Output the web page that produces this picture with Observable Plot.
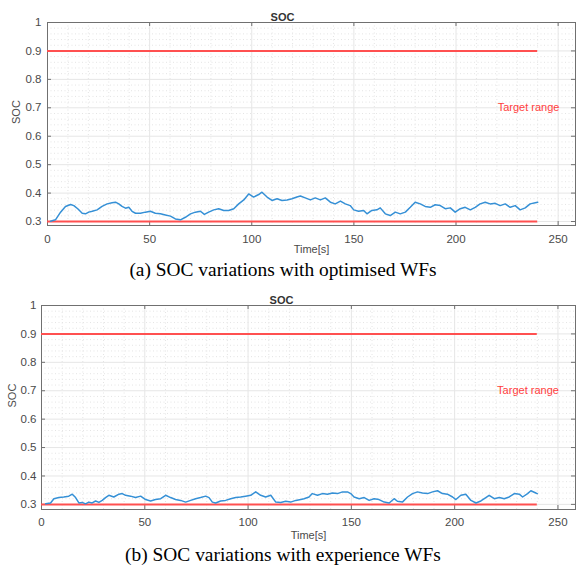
<!DOCTYPE html>
<html><head><meta charset="utf-8">
<script src="https://cdn.jsdelivr.net/npm/d3@7"></script>
<script src="https://cdn.jsdelivr.net/npm/@observablehq/plot@0.6"></script>
<style>
body{margin:0;background:#fff;}
#wrap{position:relative;width:576px;height:571px;overflow:hidden;background:#fff;}
.cap{position:absolute;left:0;width:566px;font-family:"Liberation Serif","Times New Roman",serif;font-size:19.4px;line-height:22px;text-align:center;color:#000;white-space:nowrap;}
#wrap svg{position:absolute;left:0;}
</style></head><body><div id="wrap"></div>
<script>
// ---- data ----
const timeA = [1.5,3.9,6.4,8.8,11.3,12.9,14.8,17.0,18.6,20.2,21.9,24.3,26.7,29.2,31.6,33.3,34.9,36.5,38.2,39.8,41.4,43.1,45.5,47.9,50.4,52.8,55.3,57.7,60.2,62.6,65.1,67.5,70.0,72.4,74.9,76.8,78.9,81.4,83.8,86.3,88.7,91.2,93.6,96.1,98.5,100.9,103.4,105.0,107.5,109.9,112.4,114.8,117.3,119.7,122.1,123.8,126.2,128.7,131.1,133.6,136.0,138.5,140.9,143.4,145.8,148.2,149.9,152.3,154.8,156.4,158.8,161.3,162.9,165.4,167.8,170.3,172.7,175.2,177.6,180.0,182.5,184.9,187.4,189.8,192.3,194.7,197.2,199.6,202.1,204.5,207.0,209.4,211.8,214.3,216.7,219.2,221.6,224.1,226.5,229.0,231.4,233.9,236.3,238.8,240];
const socA = [0.301,0.306,0.333,0.353,0.360,0.356,0.345,0.329,0.327,0.333,0.336,0.341,0.353,0.362,0.366,0.368,0.362,0.353,0.347,0.350,0.336,0.329,0.329,0.333,0.336,0.329,0.327,0.323,0.319,0.309,0.306,0.315,0.327,0.333,0.336,0.325,0.333,0.341,0.345,0.339,0.339,0.345,0.362,0.376,0.397,0.386,0.395,0.403,0.386,0.374,0.380,0.374,0.376,0.380,0.386,0.390,0.383,0.376,0.383,0.376,0.383,0.368,0.362,0.372,0.362,0.356,0.341,0.336,0.339,0.327,0.339,0.341,0.348,0.327,0.321,0.333,0.327,0.333,0.350,0.368,0.362,0.353,0.350,0.359,0.356,0.345,0.348,0.333,0.345,0.350,0.341,0.350,0.362,0.368,0.362,0.364,0.356,0.362,0.350,0.356,0.341,0.348,0.362,0.366,0.368];

const timeB = [2.0,4.4,6.0,8.4,10.8,13.2,14.9,16.5,18.1,19.7,21.3,22.9,24.5,26.2,27.8,29.4,31.0,32.6,35.0,37.5,39.1,40.7,43.1,45.5,48.0,50.4,52.8,55.2,57.7,60.1,62.5,64.9,67.3,69.8,72.2,74.6,77.0,79.5,81.1,82.7,84.3,86.7,89.1,91.6,94.0,96.4,98.8,101.3,103.7,106.1,108.5,111.0,113.4,115.8,118.2,120.6,123.1,125.5,127.1,129.5,131.1,133.6,136.0,138.4,140.8,143.3,145.7,148.1,149.7,151.3,153.8,156.2,158.6,161.0,163.4,165.9,168.3,170.7,172.3,174.7,177.2,179.6,182.0,184.4,186.9,189.3,191.7,194.1,196.5,199.0,200.6,203.0,205.4,207.9,210.3,212.7,215.1,216.7,219.2,221.6,224.0,226.4,228.9,231.3,232.9,235.3,236.9,239.3,240];
const socB = [0.302,0.305,0.320,0.324,0.326,0.329,0.336,0.324,0.305,0.307,0.302,0.308,0.305,0.312,0.307,0.314,0.324,0.332,0.326,0.336,0.338,0.332,0.329,0.324,0.329,0.317,0.312,0.317,0.320,0.332,0.324,0.317,0.314,0.308,0.314,0.320,0.324,0.329,0.324,0.308,0.305,0.312,0.314,0.320,0.324,0.326,0.329,0.332,0.344,0.332,0.326,0.332,0.308,0.307,0.311,0.308,0.314,0.317,0.320,0.326,0.338,0.332,0.338,0.336,0.340,0.338,0.344,0.344,0.338,0.326,0.320,0.324,0.314,0.320,0.317,0.308,0.305,0.320,0.311,0.308,0.326,0.338,0.344,0.340,0.338,0.344,0.348,0.338,0.336,0.326,0.317,0.332,0.336,0.314,0.305,0.312,0.324,0.332,0.320,0.324,0.320,0.326,0.338,0.336,0.326,0.338,0.348,0.340,0.338];

const xTicks = [0, 50, 100, 150, 200, 250];
const yTicks = [0.3, 0.4, 0.5, 0.6, 0.7, 0.8, 0.9, 1];
const xMinor = [10,20,30,40,60,70,80,90,110,120,130,140,160,170,180,190,210,220,230,240,260];
const yMinor = [0.32,0.34,0.36,0.38,0.42,0.44,0.46,0.48,0.52,0.54,0.56,0.58,0.62,0.64,0.66,0.68,0.72,0.74,0.76,0.78,0.82,0.84,0.86,0.88,0.92,0.94,0.96,0.98];
const targetLimits = [0.3, 0.9];
const targetSpan = [0, 240];
const annotation = [{t: 235.5, soc: 0.7, label: "Target range"}];
const titleText = "SOC";
const xLabel = "Time[s]";
const yLabel = "SOC";
const captions = ["(a) SOC variations with optimised WFs", "(b) SOC variations with experience WFs"];

const font = "'Liberation Sans', Arial, Helvetica, sans-serif";
const axisGray = "#707070";
const textGray = "#4a4a4a";

function makeChart(time, soc, cfg) {
  const data = time.map((t, i) => ({t, soc: soc[i]}));
  const fw = 576 - cfg.marginLeft - 1;
  const fh = cfg.height - 22 - cfg.marginBottom;
  return Plot.plot({
    width: 576,
    height: cfg.height,
    marginLeft: cfg.marginLeft,
    marginRight: 1,
    marginTop: 22,
    marginBottom: cfg.marginBottom,
    style: {fontFamily: font, fontSize: "11px", background: "transparent", overflow: "visible"},
    x: {domain: [0, 258.5]},
    y: {domain: cfg.yDomain},
    marks: [
      Plot.gridX(xMinor, {stroke: "#e4e4e4", strokeOpacity: 1, strokeDasharray: "1,2.5"}),
      Plot.gridY(yMinor, {stroke: "#e4e4e4", strokeOpacity: 1, strokeDasharray: "1,2.5"}),
      Plot.gridX(xTicks, {stroke: "#e6e6e6", strokeOpacity: 1}),
      Plot.gridY(yTicks, {stroke: "#e6e6e6", strokeOpacity: 1}),
      Plot.tickX(xTicks, {x: d => d, insetTop: fh - 4, stroke: axisGray}),
      Plot.tickX(xTicks, {x: d => d, insetBottom: fh - 4, stroke: axisGray}),
      Plot.tickY(yTicks, {y: d => d, insetRight: fw - 4, stroke: axisGray}),
      Plot.tickY(yTicks, {y: d => d, insetLeft: fw - 4, stroke: axisGray}),
      Plot.frame({stroke: axisGray}),
      Plot.ruleY(targetLimits, {x1: targetSpan[0], x2: targetSpan[1], stroke: "#ff5050", strokeWidth: 2}),
      Plot.lineY(data, {x: "t", y: "soc", stroke: "#3590d6", strokeWidth: 1.5}),
      Plot.text(annotation, {x: "t", y: "soc", text: "label", fill: "#ff4040", fontSize: 11}),
      Plot.axisX(xTicks, {anchor: "bottom", tickSize: 0, tickPadding: cfg.xPad, fill: textGray, fontSize: 11.5, label: null}),
      Plot.axisY(yTicks, {anchor: "left", tickSize: 0, tickPadding: cfg.yPad, fill: textGray, fontSize: 11.5, label: null, tickFormat: d => String(d)}),
      Plot.text([titleText], {frameAnchor: "top", dy: -9, dx: cfg.titleDx, fontWeight: "bold", fill: "#333", fontSize: 11}),
      Plot.text([xLabel], {frameAnchor: "bottom", dy: cfg.xLabelDy, fill: textGray, fontSize: 11}),
      Plot.text([yLabel], {frameAnchor: "left", dx: cfg.yLabelDx, rotate: -90, fill: textGray, fontSize: 11})
    ]
  });
}

const wrap = document.getElementById("wrap");
const a = makeChart(timeA, socA, {marginLeft: 47, height: 258, marginBottom: 33, yDomain: [0.286, 1], xPad: 9, yPad: 6, titleDx: -29, xLabelDy: 27, yLabelDx: -31});
a.style.top = "0px";
wrap.appendChild(a);
const capA = document.createElement("div");
capA.className = "cap"; capA.style.top = "259px"; capA.textContent = captions[0];
wrap.appendChild(capA);

const b = makeChart(timeB, socB, {marginLeft: 41, height: 262, marginBottom: 36, yDomain: [0.282, 1], xPad: 8, yPad: 5, titleDx: -27, xLabelDy: 29, yLabelDx: -29});
b.style.top = "283px";
wrap.appendChild(b);
const capB = document.createElement("div");
capB.className = "cap"; capB.style.top = "544px"; capB.textContent = captions[1];
wrap.appendChild(capB);
</script></body></html>
